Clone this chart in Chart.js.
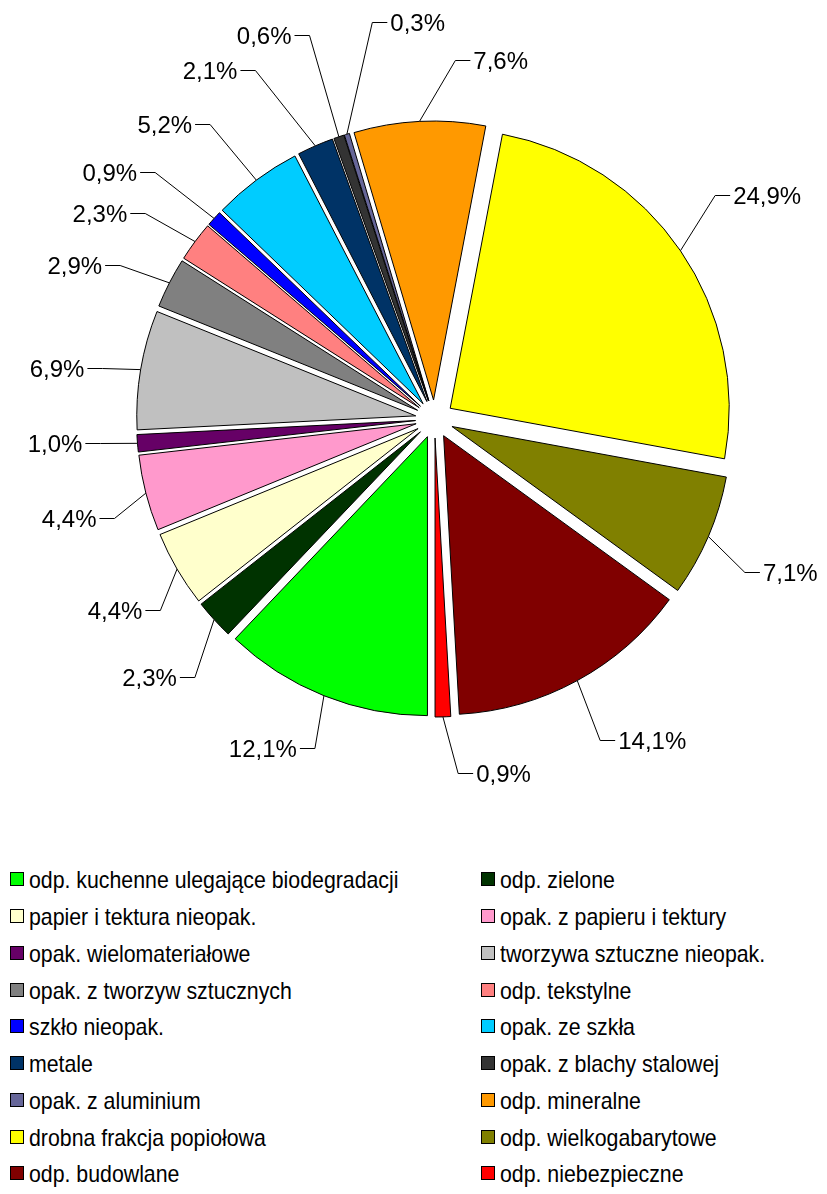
<!DOCTYPE html>
<html lang="pl">
<head>
<meta charset="utf-8">
<title>Skład odpadów</title>
<script src="https://cdn.jsdelivr.net/npm/chart.js@4.4.1/dist/chart.umd.min.js"></script>
<style>
  html, body { margin: 0; padding: 0; background: #fff; }
  body { width: 827px; height: 1194px; position: relative; overflow: hidden;
         font-family: "Liberation Sans", Arial, sans-serif; }
  #pie { position: absolute; left: 0; top: 0; }
  #legend { position: absolute; left: 10px; top: 862px; margin: 0; padding: 0; list-style: none;
            display: grid; grid-template-columns: 471px 340px; grid-auto-rows: 36.75px; }
  #legend li { display: flex; align-items: center; font-size: 24px; color: #000; white-space: nowrap; }
  #legend .swatch { width: 12px; height: 12px; border: 1px solid #000; margin: 0 5px 2px 0; flex: none; }
  /* the original text is drawn a little narrow */
  #legend .name { display: inline-block; transform: scaleX(0.8875); transform-origin: 0 50%; }
</style>
</head>
<body>
<canvas id="pie" width="827" height="840"></canvas>
<ul id="legend"></ul>
<script>
const categories = [
  "odp. kuchenne ulegające biodegradacji", "odp. zielone",
  "papier i tektura nieopak.", "opak. z papieru i tektury",
  "opak. wielomateriałowe", "tworzywa sztuczne nieopak.",
  "opak. z tworzyw sztucznych", "odp. tekstylne",
  "szkło nieopak.", "opak. ze szkła",
  "metale", "opak. z blachy stalowej",
  "opak. z aluminium", "odp. mineralne",
  "drobna frakcja popiołowa", "odp. wielkogabarytowe",
  "odp. budowlane", "odp. niebezpieczne"
];
const shares = [12.1, 2.3, 4.4, 4.4, 1.0, 6.9, 2.9, 2.3, 0.9, 5.2, 2.1, 0.6, 0.3, 7.6, 24.9, 7.1, 14.1, 0.9];
const sliceColors = [
  "#00FF00", "#003300", "#FFFFCC", "#FF99CC", "#660066", "#C0C0C0",
  "#808080", "#FF8080", "#0000FF", "#00CCFF", "#003366", "#333333",
  "#666699", "#FF9900", "#FFFF00", "#808000", "#800000", "#FF0000"
];
// per-slice tweak of the callout elbow: [degrees turned, extra px outward]
const calloutNudge = [
  [-1.8, -5], [-4.8, -3], [-4.6, -21], [-2.8, -20], [0.6, -20], [-0.8, -19],
  [-1.1, -5], [-1.1, 0], [-0.8, 18], [-0.5, 16], [-3.6, 37], [0.7, 49],
  [8.2, 47], [6.2, 5], [-4.2, 4], [3.0, -9], [1.3, 6], [-2.2, 0]
];

const EXPLODE = 19;

// every slice pulled out from the centre, like the exploded pie in the original
const explodedSlices = {
  id: "explodedSlices",
  beforeDatasetDraw(chart, args) {
    const ctx = chart.ctx;
    args.meta.data.forEach(arc => {
      const mid = (arc.startAngle + arc.endAngle) / 2;
      ctx.save();
      ctx.translate(Math.cos(mid) * EXPLODE, Math.sin(mid) * EXPLODE);
      arc.draw(ctx, chart.chartArea);
      ctx.restore();
    });
    return false;
  }
};

const callouts = {
  id: "callouts",
  afterDatasetsDraw(chart) {
    const ctx = chart.ctx;
    const arcs = chart.getDatasetMeta(0).data;
    ctx.save();
    ctx.strokeStyle = "#000";
    ctx.lineWidth = 1;
    ctx.fillStyle = "#000";
    ctx.font = '24px "Liberation Sans", Arial, sans-serif';
    ctx.textBaseline = "alphabetic";
    arcs.forEach((arc, i) => {
      const mid = (arc.startAngle + arc.endAngle) / 2;
      const [dDeg, dR] = calloutNudge[i];
      const r0 = arc.outerRadius + EXPLODE;
      const ax = arc.x + Math.cos(mid) * r0;
      const ay = arc.y + Math.sin(mid) * r0;
      const a = mid + dDeg * Math.PI / 180;
      const r1 = r0 + 57 + dR;
      const ex = arc.x + Math.cos(a) * r1;
      const ey = Math.round(arc.y + Math.sin(a) * r1) + 0.5;
      let fromTop = (a * 180 / Math.PI + 90) % 360;
      if (fromTop < 0) fromTop += 360;
      const right = fromTop < 180 || fromTop > 348;
      const tx = right ? ex + 15 : ex - 15;
      ctx.beginPath();
      ctx.moveTo(ax, ay);
      ctx.lineTo(ex, ey);
      ctx.lineTo(tx, ey);
      ctx.stroke();
      ctx.textAlign = right ? "left" : "right";
      const text = shares[i].toFixed(1).replace(".", ",") + "%";
      ctx.fillText(text, right ? tx + 3 : tx - 3, ey + 8.5);
    });
    ctx.restore();
  }
};

new Chart(document.getElementById("pie"), {
  type: "pie",
  data: {
    labels: categories,
    datasets: [{
      data: shares,
      backgroundColor: sliceColors,
      borderColor: "#000",
      borderWidth: 1,
      offset: 0,
      hoverOffset: 0
    }]
  },
  options: {
    responsive: false,
    animation: false,
    events: [],
    rotation: 180,
    radius: 279,
    layout: { padding: { left: 42, right: 0, top: 0, bottom: 2 } },
    plugins: { legend: { display: false }, tooltip: { enabled: false } }
  },
  plugins: [explodedSlices, callouts]
});

const legend = document.getElementById("legend");
categories.forEach((name, i) => {
  const li = document.createElement("li");
  const sw = document.createElement("span");
  sw.className = "swatch";
  sw.style.background = sliceColors[i];
  const txt = document.createElement("span");
  txt.className = "name";
  txt.textContent = name;
  li.appendChild(sw);
  li.appendChild(txt);
  legend.appendChild(li);
});
</script>
</body>
</html>
